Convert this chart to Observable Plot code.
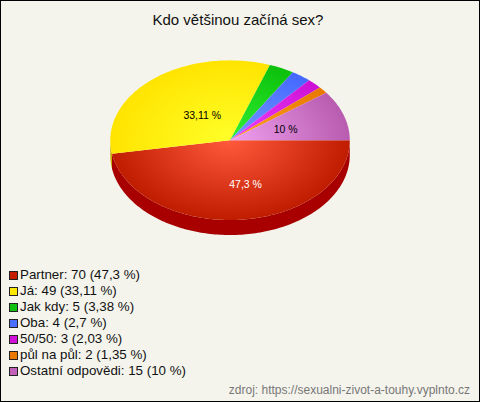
<!DOCTYPE html>
<html><head><meta charset="utf-8">
<script src="https://cdn.jsdelivr.net/npm/d3@7"></script>
<script src="https://cdn.jsdelivr.net/npm/@observablehq/plot@0.6"></script>
<style>
html,body{margin:0;padding:0;background:#f4f4ec}
#box{position:relative;box-sizing:border-box;width:480px;height:402px;border:1px solid #000;background:#f4f4ec;font-family:"Liberation Sans",Arial,sans-serif;overflow:hidden}
#title{position:absolute;left:0;top:11px;width:474px;text-align:center;font-size:15px;line-height:16px;color:#111}
#chart{position:absolute;left:-1px;top:-1px}
#legend{position:absolute;left:8px;top:266px;font-size:13.33px;line-height:16px;color:#111}
#legend div{height:16px;white-space:nowrap}
#legend i{display:inline-block;box-sizing:border-box;width:9px;height:9px;border:1px solid #222;margin-right:2px;vertical-align:-0.5px}
#source{position:absolute;right:9px;top:381px;font-size:12px;line-height:16px;color:#777}
</style></head><body>
<div id="box">
<div id="title"></div>
<div id="chart"></div>
<div id="legend"></div>
<div id="source"></div>
</div>
<script>
const titleText = "Kdo většinou začíná sex?";
const sourceText = "zdroj: https://sexualni-zivot-a-touhy.vyplnto.cz";
const categories = ["Partner","Já","Jak kdy","Oba","50/50","půl na půl","Ostatní odpovědi"];
const counts = [70,49,5,4,3,2,15];
const percents = ["47,3","33,11","3,38","2,7","2,03","1,35","10"];
const swatches = ["#c41e00","#ffe800","#10c010","#4a70ff","#d010d8","#e87800","#c060b8"];
const centers = ["#ff5a3c","#ffff28","#30f030","#7498ff","#f040ff","#ffa020","#f0a0f0"];
const edges = ["#c01c00","#ffe400","#0cc00c","#4468ff","#cc10d4","#e87800","#b85cb0"];
const sides = ["#a80000","#c8a800","#089008","#3050c0","#980898","#b05800","#884080"];

const W = 480, H = 402;
const cx = 230, cy = 140, rx = 120, ry = 80, depth = 15;
const total = d3.sum(counts);
const depthY = depth / ry;

// slice boundaries, clockwise from 3 o'clock
let acc = 0;
const slices = counts.map((v, i) => {
  const a0 = acc / total * 2 * Math.PI; acc += v;
  const a1 = acc / total * 2 * Math.PI;
  return {i, a0, a1, mid: (a0 + a1) / 2};
});
const arc = (a0, a1) => {
  const n = Math.max(2, Math.ceil((a1 - a0) / 0.02));
  return d3.range(n + 1).map(k => a0 + (a1 - a0) * k / n);
};
const slicePts = s => [{x:0,y:0}, ...arc(s.a0, s.a1).map(a => ({x:Math.cos(a), y:Math.sin(a)}))];
// side wall: the part of each slice on the front half of the rim
const wallPts = s => {
  const a0 = s.a0, a1 = Math.min(s.a1, Math.PI);
  if (a0 >= Math.PI) return null;
  const front = arc(a0, a1).map(a => ({x:Math.cos(a), y:Math.sin(a)}));
  const back = front.slice().reverse().map(p => ({x:p.x, y:p.y + depthY}));
  return [...front, ...back];
};

const poly = (pts, fill) => Plot.line(pts, {x:"x", y:"y", fill, stroke:"none", curve:"linear"});
const marks = [];
slices.forEach(s => { const w = wallPts(s); if (w) marks.push(poly(w, sides[s.i])); });
slices.forEach(s => marks.push(poly(slicePts(s), `url(#g${s.i})`)));

const label = (i, r, dx, dy, fill) => {
  const s = slices[i];
  return Plot.text([{x:r*Math.cos(s.mid), y:r*Math.sin(s.mid), t:percents[i] + " %"}],
    {x:"x", y:"y", text:"t", dx, dy, fill, fontSize:10.5, fontFamily:"Liberation Sans"});
};
marks.push(label(0, .5, 10.5, 5, "#fff"));
marks.push(label(1, .45, 7, 3, "#000"));
marks.push(label(6, .45, 4.5, 1, "#000"));

const plot = Plot.plot({
  width: W, height: H, margin: 0,
  style: {background:"transparent"},
  x: {domain:[-1,1], range:[cx-rx, cx+rx], axis:null},
  y: {domain:[-1,1], range:[cy-ry, cy+ry], axis:null},
  marks
});

// radial shading, one gradient per slice
const ns = "http://www.w3.org/2000/svg";
const defs = document.createElementNS(ns, "defs");
swatches.forEach((_, i) => {
  const g = document.createElementNS(ns, "radialGradient");
  g.setAttribute("id", "g" + i);
  g.setAttribute("gradientUnits", "userSpaceOnUse");
  g.setAttribute("cx", 0); g.setAttribute("cy", 0); g.setAttribute("r", 1);
  g.setAttribute("gradientTransform", `translate(${cx} ${cy}) scale(${rx} ${ry})`);
  [[0, centers[i]], [1, edges[i]]].forEach(([o, c]) => {
    const st = document.createElementNS(ns, "stop");
    st.setAttribute("offset", o); st.setAttribute("stop-color", c);
    g.appendChild(st);
  });
  defs.appendChild(g);
});
plot.insertBefore(defs, plot.firstChild);
document.getElementById("chart").appendChild(plot);

document.getElementById("title").textContent = titleText;
document.getElementById("source").textContent = sourceText;
const legend = document.getElementById("legend");
categories.forEach((c, i) => {
  const row = document.createElement("div");
  const sw = document.createElement("i");
  sw.style.background = swatches[i];
  row.appendChild(sw);
  row.appendChild(document.createTextNode(`${c}: ${counts[i]} (${percents[i]} %)`));
  legend.appendChild(row);
});
</script>
</body></html>
